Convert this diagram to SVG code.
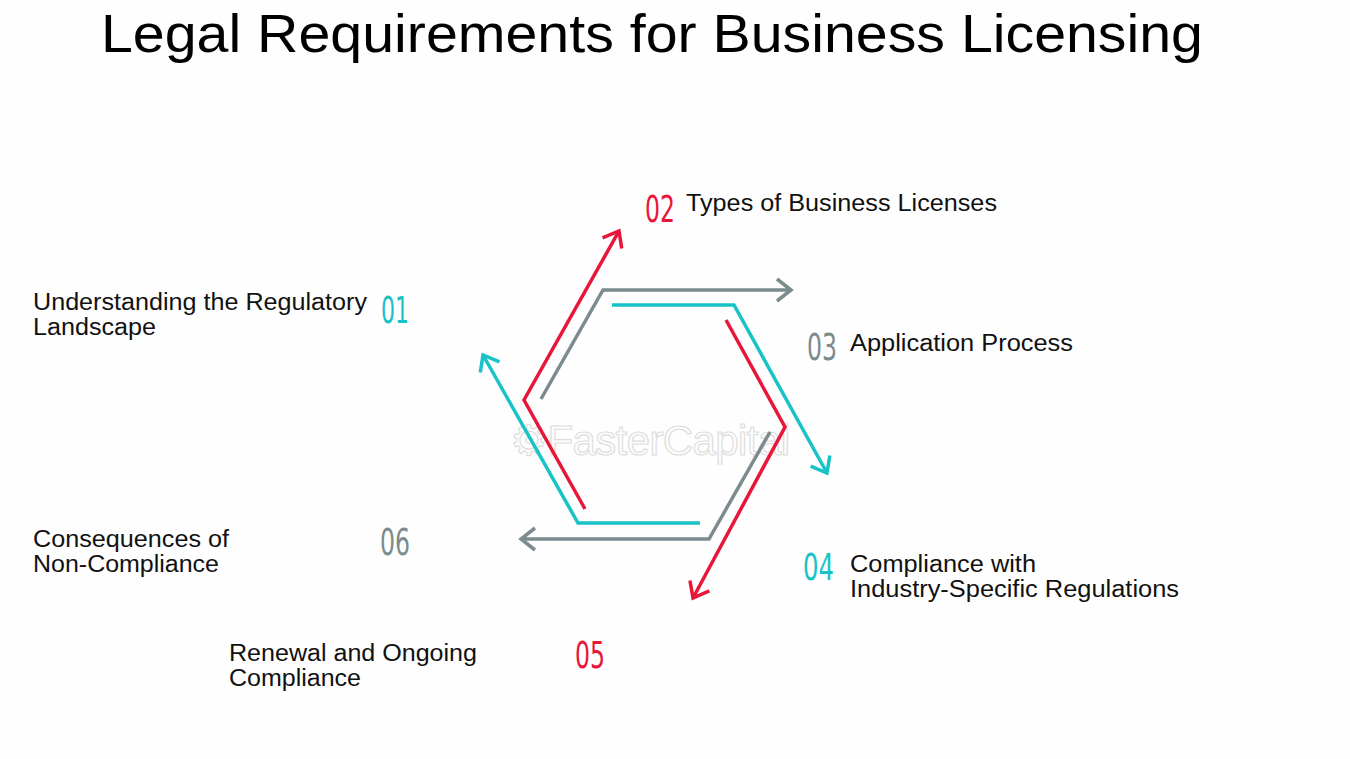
<svg xmlns="http://www.w3.org/2000/svg" width="1350" height="759" viewBox="0 0 1350 759">
<style>
.t{font-family:"Liberation Sans",Arial,sans-serif;font-size:23px;fill:#111}
.n{font-family:"DejaVu Sans",sans-serif;font-size:38px}
.l{fill:none;stroke-width:3.5;stroke-linejoin:miter}
.r{stroke:#e8173a}.c{stroke:#17c3c6}.g{stroke:#7b8b8e}
</style>
<defs>
<marker id="ar" markerUnits="userSpaceOnUse" markerWidth="40" markerHeight="40" refX="0" refY="0" orient="auto" overflow="visible"><path d="M-14,-11 L0,0 L-14,11" fill="none" stroke="#e8173a" stroke-width="3.5"/></marker>
<marker id="ac" markerUnits="userSpaceOnUse" markerWidth="40" markerHeight="40" refX="0" refY="0" orient="auto" overflow="visible"><path d="M-14,-11 L0,0 L-14,11" fill="none" stroke="#17c3c6" stroke-width="3.5"/></marker>
<marker id="ag" markerUnits="userSpaceOnUse" markerWidth="40" markerHeight="40" refX="0" refY="0" orient="auto" overflow="visible"><path d="M-14,-11 L0,0 L-14,11" fill="none" stroke="#7b8b8e" stroke-width="3.5"/></marker>
</defs>
<rect width="1350" height="759" fill="#fefefe"/>
<text x="101" y="52" font-family="Liberation Sans,Arial,sans-serif" font-size="53" fill="#000" textLength="1102" lengthAdjust="spacingAndGlyphs">Legal Requirements for Business Licensing</text>
<text x="510" y="455" font-family="Liberation Sans,Arial,sans-serif" font-size="42" fill="none" stroke="#ddd" stroke-width="1.2" textLength="280">⚙FasterCapital</text>
<g id="connectors">
<path class="l r" d="M585,509 L524,400 L619,231" marker-end="url(#ar)"/>
<path class="l g" d="M541,399 L603,290 L791,290" marker-end="url(#ag)"/>
<path class="l c" d="M612,305 L734,305 L827,473" marker-end="url(#ac)"/>
<path class="l r" d="M726,320 L785,427 L693,598" marker-end="url(#ar)"/>
<path class="l g" d="M770,432 L709,539 L521,539" marker-end="url(#ag)"/>
<path class="l c" d="M700,523 L578,523 L483,355" marker-end="url(#ac)"/>
</g>
<g id="n01"><text class="t" x="33" y="310" textLength="334" lengthAdjust="spacingAndGlyphs">Understanding the Regulatory</text><text class="t" x="33" y="335" textLength="123" lengthAdjust="spacingAndGlyphs">Landscape</text><text class="n" x="381" y="323" fill="#17c3c6" textLength="28" lengthAdjust="spacingAndGlyphs">01</text></g>
<g id="n02"><text class="n" x="645" y="222" fill="#e8173a" textLength="30" lengthAdjust="spacingAndGlyphs">02</text><text class="t" x="686" y="211" textLength="311" lengthAdjust="spacingAndGlyphs">Types of Business Licenses</text></g>
<g id="n03"><text class="n" x="807" y="360" fill="#7b8b8e" textLength="30" lengthAdjust="spacingAndGlyphs">03</text><text class="t" x="850" y="351" textLength="223" lengthAdjust="spacingAndGlyphs">Application Process</text></g>
<g id="n04"><text class="n" x="803" y="580" fill="#17c3c6" textLength="31" lengthAdjust="spacingAndGlyphs">04</text><text class="t" x="850" y="572" textLength="186" lengthAdjust="spacingAndGlyphs">Compliance with</text><text class="t" x="850" y="597" textLength="329" lengthAdjust="spacingAndGlyphs">Industry-Specific Regulations</text></g>
<g id="n05"><text class="t" x="229" y="661" textLength="248" lengthAdjust="spacingAndGlyphs">Renewal and Ongoing</text><text class="t" x="229" y="686" textLength="132" lengthAdjust="spacingAndGlyphs">Compliance</text><text class="n" x="575" y="668" fill="#e8173a" textLength="30" lengthAdjust="spacingAndGlyphs">05</text></g>
<g id="n06"><text class="t" x="33" y="547" textLength="196" lengthAdjust="spacingAndGlyphs">Consequences of</text><text class="t" x="33" y="572" textLength="186" lengthAdjust="spacingAndGlyphs">Non-Compliance</text><text class="n" x="380" y="555" fill="#7b8b8e" textLength="30" lengthAdjust="spacingAndGlyphs">06</text></g>
</svg>
